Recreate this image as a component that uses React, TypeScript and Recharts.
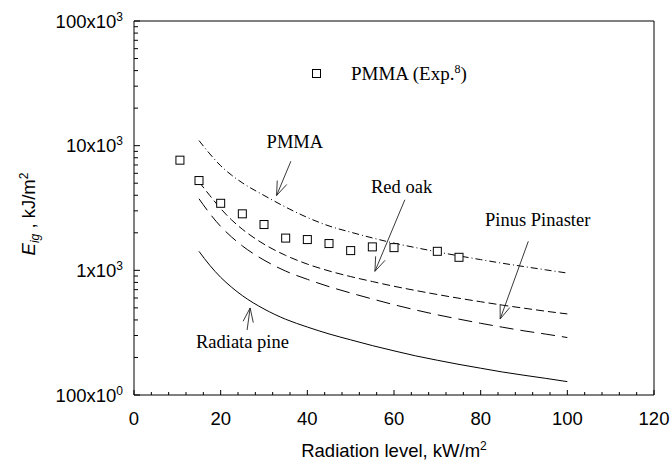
import React from 'react';
import { ComposedChart, Line, Scatter, XAxis, YAxis, ReferenceLine, ReferenceDot, Legend } from 'recharts';

// ---------- data ----------
const curveX = [15, 17.5, 20, 22.5, 25, 30, 35, 40, 45, 50, 55, 60, 65, 70, 75, 80, 85, 90, 95, 100];
const pmmaModel = [10990, 8590, 6900, 5810, 5035, 3990, 3214, 2655, 2270, 2023, 1820, 1652, 1521, 1406, 1306, 1219, 1140, 1072, 1009, 951];
const redOakModel = [5129, 3981, 3126, 2541, 2138, 1622, 1318, 1122, 989, 891, 813, 745, 689, 640, 597, 560, 526, 497, 470, 447];
const pinusModel = [3750, 2851, 2249, 1854, 1570, 1208, 986, 847, 740, 658, 589, 530, 481, 440, 406, 376, 350, 327, 308, 289];
const radiataModel = [1420, 1096, 879, 733, 627, 490, 405, 351, 309, 277, 249, 226, 206, 190, 176, 164, 153, 144, 136, 128];

const expX = [10.6, 15, 20, 25, 30, 35, 40, 45, 50, 55, 60, 70, 75];
const expPMMA = [7650, 5250, 3450, 2840, 2330, 1814, 1765, 1640, 1440, 1542, 1521, 1421, 1272];

const xTicks = Array.from({ length: 31 }, (_, i) => i * 4);
const xLabelTicks = [0, 20, 40, 60, 80, 100, 120];
const yMajor = [100, 1000, 10000, 100000];
const yMajorLabels = [['100', '0'], ['1', '3'], ['10', '3'], ['100', '3']];
const yTicks = [100, 200, 300, 400, 500, 600, 700, 800, 900, 1000, 2000, 3000, 4000, 5000, 6000, 7000, 8000, 9000,
  10000, 20000, 30000, 40000, 50000, 60000, 70000, 80000, 90000, 100000];

// annotations: text labels and arrows (data coordinates)
const labels = [
  { text: 'PMMA', x: 30.6, y: 9667 },
  { text: 'Red oak', x: 54.7, y: 4207 },
  { text: 'Pinus Pinaster', x: 81, y: 2256 },
  { text: 'Radiata pine', x: 14.3, y: 238 },
];
const arrows = [
  { from: { x: 36.2, y: 7500 }, to: { x: 32.9, y: 3980 } },
  { from: { x: 62.5, y: 3680 }, to: { x: 55.6, y: 982 } },
  { from: { x: 91, y: 1710 }, to: { x: 84.5, y: 407 } },
  { from: { x: 26.1, y: 332 }, to: { x: 26.8, y: 499 } },
];

const mk = (xs: number[], ys: number[]) => xs.map((x, i) => ({ x, y: ys[i] }));

const SANS = '"Liberation Sans", Arial, sans-serif';
const SERIF = '"Liberation Serif", "Times New Roman", serif';

const YTick = (props: any) => {
  const { x, y, payload } = props;
  const v = payload.value;
  const idx = yMajor.indexOf(v);
  const major = idx >= 0;
  return (
    <g>
      <line x1={x} y1={y} x2={x + (major ? 6 : 4)} y2={y} stroke="#000" strokeWidth={1} />
      {major && (
        <text x={x - 11} y={y + 6.5} textAnchor="end" fontFamily={SANS} fontSize={18.5} fill="#000">
          {yMajorLabels[idx][0]}x10
          <tspan dy={-7} fontSize={12}>{yMajorLabels[idx][1]}</tspan>
        </text>
      )}
    </g>
  );
};

const XTick = (props: any) => {
  const { x, y, payload } = props;
  const v = payload.value;
  const major = xLabelTicks.includes(v);
  return (
    <g>
      <line x1={x} y1={y} x2={x} y2={y - (major ? 5 : 3)} stroke="#000" strokeWidth={1} />
      {major && (
        <text x={x} y={y + 30} textAnchor="middle" fontFamily={SANS} fontSize={18.5} fill="#000">
          {v}
        </text>
      )}
    </g>
  );
};

const Square = (props: any) => {
  const { cx, cy } = props;
  if (cx == null || cy == null) return null;
  return <rect x={cx - 4} y={cy - 4} width={8} height={8} fill="#fff" stroke="#000" strokeWidth={1} />;
};

const Arrow = (props: any) => {
  const { x1, y1, x2, y2 } = props;
  const ang = Math.atan2(y2 - y1, x2 - x1);
  const L = 15;
  const a = (20 * Math.PI) / 180;
  const b1x = x2 - L * Math.cos(ang - a);
  const b1y = y2 - L * Math.sin(ang - a);
  const b2x = x2 - L * Math.cos(ang + a);
  const b2y = y2 - L * Math.sin(ang + a);
  return (
    <g stroke="#222" strokeWidth={0.9} fill="none">
      <line x1={x1} y1={y1} x2={x2} y2={y2} />
      <line x1={x2} y1={y2} x2={b1x} y2={b1y} />
      <line x1={x2} y1={y2} x2={b2x} y2={b2y} />
    </g>
  );
};

const LegendContent = () => (
  <div style={{ display: 'flex', alignItems: 'center', fontFamily: SERIF, fontSize: 19, color: '#000', whiteSpace: 'nowrap' }}>
    <svg width={9} height={9} style={{ marginRight: 30 }}>
      <rect x={0.5} y={0.5} width={8} height={8} fill="#fff" stroke="#000" strokeWidth={1} />
    </svg>
    <span>
      PMMA (Exp.<sup style={{ fontSize: 12 }}>8</sup>)
    </span>
  </div>
);

const XTitle = (props: any) => {
  const { viewBox } = props;
  const cx = viewBox.x + viewBox.width / 2;
  return (
    <text x={cx} y={viewBox.y + 62} textAnchor="middle" fontFamily={SANS} fontSize={18.5} fill="#000">
      Radiation level, kW/m
      <tspan dy={-7} fontSize={12}>2</tspan>
    </text>
  );
};

const YTitle = () => (
  <text x={35} y={214} transform="rotate(-90 35 214)" textAnchor="middle" fontFamily={SANS} fontSize={18.5} fill="#000">
    <tspan fontStyle="italic">E</tspan>
    <tspan fontStyle="italic" fontSize={12} dy={4}>ig</tspan>
    <tspan dy={-4}> , kJ/m</tspan>
    <tspan dy={-7} fontSize={12}>2</tspan>
  </text>
);

const TextLabel = (text: string) => (props: any) => (
  <text x={props.cx} y={props.cy} fontFamily={SERIF} fontSize={18.5} fill="#000">{text}</text>
);

export default function App() {
  return (
    <div style={{ position: 'absolute', left: 0, top: 0, width: 671, height: 465, background: '#fff' }}>
      <ComposedChart width={671} height={465} margin={{ top: 21, right: 17, bottom: 0, left: 0 }}>
        <XAxis
          type="number"
          dataKey="x"
          domain={[0, 120]}
          ticks={xTicks}
          interval={0}
          tickSize={0}
          tickMargin={0}
          tickLine={false}
          tick={<XTick />}
          height={70}
          axisLine={{ stroke: '#000', strokeWidth: 1 }}
          allowDataOverflow
          label={<XTitle />}
        />
        <YAxis
          type="number"
          scale="log"
          domain={[100, 100000]}
          ticks={yTicks}
          interval={0}
          tickSize={0}
          tickMargin={0}
          tickLine={false}
          tick={<YTick />}
          width={134}
          axisLine={{ stroke: '#000', strokeWidth: 1 }}
          allowDataOverflow
          label={<YTitle />}
        />
        <ReferenceLine y={100000} stroke="#000" strokeWidth={1} />
        <ReferenceLine x={120} stroke="#000" strokeWidth={1} />
        <Line data={mk(curveX, pmmaModel)} dataKey="y" type="monotone" stroke="#000" strokeWidth={1} strokeDasharray="7 3 1 3" dot={false} isAnimationActive={false} legendType="none" />
        <Line data={mk(curveX, redOakModel)} dataKey="y" type="monotone" stroke="#000" strokeWidth={1} strokeDasharray="8 4" dot={false} isAnimationActive={false} legendType="none" />
        <Line data={mk(curveX, pinusModel)} dataKey="y" type="monotone" stroke="#000" strokeWidth={1} strokeDasharray="14 7" dot={false} isAnimationActive={false} legendType="none" />
        <Line data={mk(curveX, radiataModel)} dataKey="y" type="monotone" stroke="#000" strokeWidth={1} dot={false} isAnimationActive={false} legendType="none" />
        <Scatter data={mk(expX, expPMMA)} dataKey="y" shape={<Square />} isAnimationActive={false} name="PMMA (Exp.8)" />
        {arrows.map((a, i) => (
          <ReferenceLine key={'a' + i} segment={[a.from, a.to]} shape={<Arrow />} ifOverflow="visible" />
        ))}
        {labels.map((l, i) => (
          <ReferenceDot key={'l' + i} x={l.x} y={l.y} r={0} shape={TextLabel(l.text)} ifOverflow="visible" />
        ))}
        <Legend
          content={<LegendContent />}
          layout="horizontal"
          verticalAlign="middle"
          align="center"
          wrapperStyle={{ left: 312, top: 62, width: 200 }}
        />
      </ComposedChart>
    </div>
  );
}
